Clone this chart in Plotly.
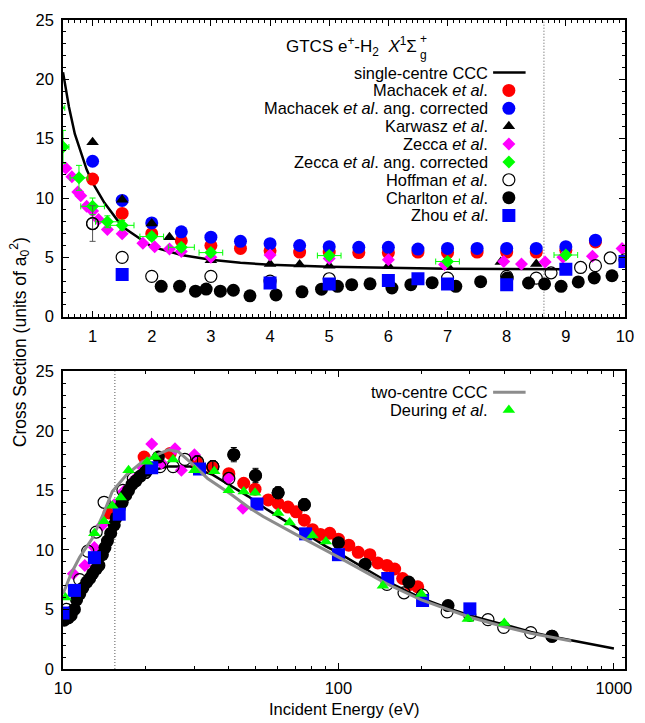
import plotly.graph_objects as go

# ---------------- DATA: low-energy panel (0.5-10 eV) ----------------
ccc_sc_low_E = [0.5, 0.55, 0.6, 0.7, 0.8, 0.9, 1.0, 1.2, 1.5, 2.0, 2.5, 3.0, 3.5, 4.0, 5.0, 6.0, 7.0, 8.0, 9.0]
ccc_sc_low_cs = [20.6, 19.1, 17.7, 15.4, 13.8, 12.4, 11.3, 9.6, 7.6, 5.9, 5.2, 4.8, 4.55, 4.38, 4.2, 4.1, 4.05, 4.02, 4.0]

mach_low_E = [1, 1.5, 2, 2.5, 3, 3.5, 4, 4.5, 5, 5.5, 6, 6.5, 7, 7.5, 8, 8.5, 9, 9.5]
mach_low_cs = [11.6, 8.7, 7.0, 6.4, 6.0, 5.75, 5.55, 5.45, 5.45, 5.4, 5.4, 5.45, 5.4, 5.45, 5.45, 5.45, 5.6, 6.3]
machcorr_low_cs = [13.1, 9.8, 7.9, 7.15, 6.7, 6.35, 6.15, 6.0, 5.9, 5.85, 5.85, 5.7, 5.75, 5.75, 5.75, 5.75, 5.9, 6.45]

karw_low_E = [1, 1.5, 2, 2.3, 3, 4, 4.5, 5, 6, 7, 7.9, 8.5]
karw_low_cs = [14.7, 9.85, 7.85, 6.7, 4.75, 4.45, 4.4, 4.3, 4.3, 4.3, 4.6, 4.45]

zecca_low_E = [0.55, 0.65, 0.75, 0.8, 0.9, 1.0, 1.1, 1.25, 1.5, 1.85, 2.05, 2.3, 2.5, 3.0, 4.0, 5.0, 6.0, 6.95, 7.95, 8.25, 8.65, 8.95, 9.45, 9.95]
zecca_low_cs = [12.5, 11.8, 10.5, 10.2, 9.3, 8.9, 8.2, 7.35, 7.0, 6.2, 5.9, 5.7, 5.5, 5.0, 5.2, 4.9, 4.8, 4.4, 4.65, 4.45, 4.6, 5.0, 5.1, 5.75]

zeccacorr_low_E = [0.42, 0.5, 0.77, 1.0, 1.25, 1.5, 2.0, 2.5, 3.0, 5.0, 7.0, 9.0]
zeccacorr_low_cs = [17.6, 14.3, 11.7, 9.3, 8.0, 7.7, 6.75, 5.85, 5.4, 5.15, 4.65, 5.2]
zeccacorr_low_dE = [0.11, 0.1, 0.15, 0.2, 0.2, 0.2, 0.2, 0.22, 0.2, 0.2, 0.2, 0.2]
zeccacorr_low_dcs = [0.0, 1.4, 1.05, 0.7, 0.5, 0.4, 0.3, 0.3, 0.3, 0.3, 0.3, 0.3]

hoff_low_E = [1, 1.5, 2, 3, 4, 5, 7, 8, 8.5, 8.75, 9.25, 9.5, 9.75, 10]
hoff_low_cs = [7.85, 5.0, 3.4, 3.4, 3.0, 3.2, 3.25, 3.4, 3.25, 3.7, 4.15, 4.3, 4.95, 4.8]
hoff_low_err = [1.5, None, None, None, None, None, None, None, None, None, None, None, None, None]

charl_low_E = [2.16, 2.47, 2.74, 2.92, 3.16, 3.38, 3.66, 4.1, 4.54, 4.87, 5.14, 5.38, 5.69, 6.06, 6.38, 6.74,
               7.14, 7.56, 8.01, 8.37, 8.64, 8.92, 9.21, 9.48, 9.78]
charl_low_cs = [2.56, 2.56, 2.15, 2.33, 2.15, 2.23, 1.76, 1.84, 2.1, 2.32, 2.56, 2.7, 2.77, 2.42, 2.7, 2.87,
                2.56, 2.95, 3.26, 2.84, 2.76, 2.56, 2.93, 3.26, 3.45]

zhou_low_E = [1.5, 4, 5, 6, 6.5, 7, 8, 9, 10]
zhou_low_cs = [3.55, 2.85, 2.75, 3.05, 3.2, 2.75, 2.7, 4.0, 4.65]

ps_threshold = 8.63

# ---------------- DATA: high-energy panel (10-1000 eV) ----------------
ccc_sc_high_E = [18.5, 20.4, 24, 29, 35, 42, 47, 55, 70, 90, 100, 125, 150, 200, 250, 300, 400, 500, 600, 800, 1000]
ccc_sc_high_cs = [16.4, 16.6, 17.0, 17.0, 16.3, 15.2, 14.5, 13.4, 11.9, 10.3, 9.75, 8.4, 7.35, 5.95, 5.1, 4.5, 3.7, 3.12, 2.7, 2.15, 1.72]

ccc_tc_E = [10, 10.7, 11.5, 12.8, 14, 15.1, 17, 19.4, 22, 24.1, 26.2, 29.2, 33.5, 40.6, 47, 53.3, 70, 100, 150, 200, 300, 400, 500, 700]
ccc_tc_cs = [6.3, 8.0, 9.4, 11.0, 13.0, 14.9, 16.3, 17.4, 18.0, 18.4, 18.25, 17.3, 16.0, 14.7, 13.6, 12.8, 11.3, 9.4, 7.15, 5.8, 4.35, 3.55, 3.0, 2.35]

mach_high_E = [14.7, 19.7, 24.5, 30.5, 34.9, 40, 45.3, 49.8, 55.6, 60.4, 65.6, 70.2, 75.2, 80.5, 86, 93, 100,
               109, 118, 130, 139, 150, 160, 171, 182, 194]
mach_high_cs = [13.1, 17.8, 18.1, 17.4, 16.9, 16.4, 15.6, 15.1, 14.2, 13.9, 13.6, 13.2, 12.5, 11.7, 11.3, 11.4, 10.9,
                10.4, 9.8, 9.6, 8.9, 8.7, 8.4, 7.6, 7.1, 6.9]

zecca_high_E = [10.9, 12.0, 13.0, 13.9, 15.35, 16.6, 18.3, 19.5, 21.0, 22.8, 25.5, 26.9, 30, 40, 45]
zecca_high_cs = [8.0, 8.7, 10.2, 12.1, 13.8, 14.9, 16.0, 16.9, 18.9, 17.3, 18.5, 16.7, 18.0, 16.0, 13.5]

hoff_high_E = [10.3, 11.5, 12.3, 13.2, 14.1, 16.5, 18, 19.9, 22.5, 25.1, 27.7, 30.8, 35, 40, 150, 173, 202, 248, 300, 349, 398, 499, 596]
hoff_high_cs = [5.0, 7.5, 9.9, 11.5, 14.0, 15.0, 16.0, 16.5, 17.0, 17.0, 17.6, 17.4, 17.0, 16.0, 7.1, 6.4, 6.2, 4.8, 4.5, 4.15, 3.5, 3.06, 2.75]
hoff_high_err = [None, None, None, None, None, None, None, 0.5, None, None, None, 0.5, 0.5, None, None, None, None, None, None, None, None, None, None]

charl_high_E = [10.1, 10.2, 10.45, 10.7, 11.0, 11.2, 11.5, 11.8, 12.2, 12.5, 12.8, 13.2, 13.5, 13.9, 14.2, 14.5, 14.9,
                15.35, 15.6, 16.0, 16.4, 16.9, 17.3, 17.8, 18.4, 19.1, 20.2, 22.2, 41.7, 50, 60.4, 75.2, 100, 125, 180, 250, 596]
charl_high_cs = [4.1, 4.4, 4.3, 4.5, 5.0, 5.8, 6.3, 6.8, 7.3, 7.6, 8.0, 8.4, 8.7, 9.6, 10.2, 10.75, 11.4,
                 12.1, 12.7, 13.5, 14.0, 14.6, 15.0, 15.5, 15.8, 16.2, 16.7, 17.8, 18.0, 16.25, 14.8, 13.8, 10.6, 8.8, 7.3, 5.33, 2.75]
charl_high_err = [None] * 28 + [0.6, 0.6, 0.5, 0.5, None, None, None, None, None]

zhou_high_E = [10, 11, 13, 16, 21, 31.3, 50.6, 76, 100, 151, 202, 300]
zhou_high_cs = [4.7, 6.6, 9.35, 13.0, 16.9, 16.8, 13.85, 11.35, 9.6, 7.6, 5.75, 5.05]

deur_E = [10.2, 13.0, 14.1, 15.1, 16.2, 17.3, 20.2, 21.6, 25.1, 30, 35.4, 40, 45.3, 49.8, 60.4, 66.5, 80.5, 90, 145, 200, 295, 400]
deur_cs = [6.0, 11.4, 12.4, 13.7, 14.4, 16.7, 17.4, 17.8, 17.6, 16.7, 16.6, 15.0, 14.9, 14.8, 13.1, 12.3, 11.2, 10.7, 7.0, 6.3, 4.2, 3.86]

ion_threshold = 15.43

cs_ticks = [0, 5, 10, 15, 20, 25]
low_E_ticks = [1, 2, 3, 4, 5, 6, 7, 8, 9, 10]
high_E_ticks = [10, 100, 1000]
high_E_ticklabels = ["10", "100", "1000"]

legend_top = ["single-centre CCC", "Machacek <i>et al</i>.", "Machacek <i>et al</i>. ang. corrected",
              "Karwasz <i>et al</i>.", "Zecca <i>et al</i>.", "Zecca <i>et al</i>. ang. corrected",
              "Hoffman <i>et al</i>.", "Charlton <i>et al</i>.", "Zhou <i>et al</i>."]
legend_bottom = ["two-centre CCC", "Deuring <i>et al</i>."]

# ---------------- STYLE ----------------
W, H = 645, 723
ML, MR, MT, MB = 63, 11, 15, 54
FONT = "Liberation Sans, Arial, Helvetica, sans-serif"
RED, BLUE, MAG, GRN, BLK, GRY = "#ff0000", "#0000ff", "#ff00ff", "#00ff00", "#000000", "#8c8c8c"
LEG_FS, TICK_FS, TITLE_FS = 16.4, 16.5, 16.5

sty = {
    "mach": dict(symbol="circle", size=13, color=RED),
    "machc": dict(symbol="circle", size=13, color=BLUE),
    "karw": dict(symbol="triangle-up", size=11, color=BLK),
    "zecca": dict(symbol="diamond", size=10, color=MAG),
    "zeccac": dict(symbol="diamond", size=10, color=GRN),
    "hoff": dict(symbol="circle-open", size=12, color=BLK, line=dict(width=1.2, color=BLK)),
    "charl": dict(symbol="circle", size=13, color=BLK),
    "zhou": dict(symbol="square", size=13, color=BLUE),
    "deur": dict(symbol="triangle-up", size=11, color=GRN),
}

fig = go.Figure()

def add(x, y, ax, marker=None, line=None, **kw):
    xa, ya = ax
    mode = "lines" if line else "markers"
    fig.add_trace(go.Scatter(x=x, y=y, mode=mode, marker=marker, line=line,
                             xaxis=xa, yaxis=ya, showlegend=False, hoverinfo="skip", **kw))

def add_with_err(x, y, err, ax, marker, color):
    """markers for all points; error bars only where an error value exists"""
    add(x, y, ax, marker=marker)
    xs = [a for a, e in zip(x, err) if e is not None]
    ys = [b for b, e in zip(y, err) if e is not None]
    es = [e for e in err if e is not None]
    if xs:
        add(xs, ys, ax, marker=marker,
            error_y=dict(type="data", array=es, color=color, thickness=1, width=3))

TOP = ("x", "y")
BOT = ("x2", "y2")
DOTTED = dict(color="#555555", width=1, dash="1px,2px")

# threshold lines
add([ps_threshold, ps_threshold], [cs_ticks[0], cs_ticks[-1]], TOP, line=DOTTED)
add([ion_threshold, ion_threshold], [cs_ticks[0], cs_ticks[-1]], BOT, line=DOTTED)

# top panel
add(ccc_sc_low_E, ccc_sc_low_cs, TOP, line=dict(color=BLK, width=2.5))
add(mach_low_E, mach_low_cs, TOP, marker=sty["mach"])
add(mach_low_E, machcorr_low_cs, TOP, marker=sty["machc"])
add(karw_low_E, karw_low_cs, TOP, marker=sty["karw"])
add(zecca_low_E, zecca_low_cs, TOP, marker=sty["zecca"])
add(zeccacorr_low_E, zeccacorr_low_cs, TOP, marker=sty["zeccac"],
    error_x=dict(type="data", array=zeccacorr_low_dE, color=GRN, thickness=1, width=3),
    error_y=dict(type="data", array=zeccacorr_low_dcs, color=GRN, thickness=1, width=3))
add_with_err(hoff_low_E, hoff_low_cs, hoff_low_err, TOP, sty["hoff"], "#555555")
add(charl_low_E, charl_low_cs, TOP, marker=sty["charl"])
add(zhou_low_E, zhou_low_cs, TOP, marker=sty["zhou"])

# bottom panel
add(ccc_sc_high_E, ccc_sc_high_cs, BOT, line=dict(color=BLK, width=2.5))
add(mach_high_E, mach_high_cs, BOT, marker=sty["mach"])
add(zecca_high_E, zecca_high_cs, BOT, marker=sty["zecca"])
add_with_err(hoff_high_E, hoff_high_cs, hoff_high_err, BOT, sty["hoff"], BLK)
add_with_err(charl_high_E, charl_high_cs, charl_high_err, BOT, sty["charl"], BLK)
add(zhou_high_E, zhou_high_cs, BOT, marker=sty["zhou"])
add(ccc_tc_E, ccc_tc_cs, BOT, line=dict(color=GRY, width=3))
add(deur_E, deur_cs, BOT, marker=sty["deur"])

# ---------------- custom legends (pixel-space overlay axis) ----------------
LEG = ("x3", "y3")
txt_x, sym_x, line_x0, line_x1 = 497, 516, 500, 533
top_rows = [68, 86, 104, 122, 140, 158, 176, 194, 212]
bot_rows = [390, 408]
top_keys = [None, "mach", "machc", "karw", "zecca", "zeccac", "hoff", "charl", "zhou"]

annotations = []
def px_ann(text, x, y, xanchor="right", size=LEG_FS, **kw):
    annotations.append(dict(text=text, x=(x - ML) / (W - ML - MR), y=(H - MB - y) / (H - MT - MB),
                            xref="paper", yref="paper", xanchor=xanchor, yanchor="middle",
                            showarrow=False, font=dict(size=size, color=BLK, family=FONT), **kw))

for lab, key, yy in zip(legend_top, top_keys, top_rows):
    px_ann(lab, txt_x, yy)
    if key is None:
        add([line_x0, line_x1], [yy, yy], LEG, line=dict(color=BLK, width=2.5))
    else:
        add([sym_x], [yy], LEG, marker=sty[key])

px_ann(legend_bottom[0], txt_x, bot_rows[0])
add([line_x0, line_x1], [bot_rows[0], bot_rows[0]], LEG, line=dict(color=GRY, width=3))
px_ann(legend_bottom[1], txt_x, bot_rows[1])
add([sym_x], [bot_rows[1]], LEG, marker=sty["deur"])

# title
px_ann("GTCS e<sup>+</sup>-H<sub>2</sub>  <i>X</i><sup>1</sup>Σ", 425, 42, size=17)
px_ann("+", 424, 34, xanchor="left", size=12)
px_ann("g", 424, 50, xanchor="left", size=12)

# axis titles
px_ann("Cross Section (units of a<sub>0</sub><sup>2</sup>)", 19, 340, xanchor="center", textangle=-90, size=17.5)
px_ann("Incident Energy (eV)", 348.5, 709, xanchor="center", size=TITLE_FS)

# ---------------- axes ----------------
plot_h = H - MT - MB
top_dom = [(H - MB - 314) / plot_h, 1.0]
bot_dom = [0.0, (H - MB - 369) / plot_h]

common = dict(showline=True, linecolor=BLK, linewidth=1.5, mirror="allticks", ticks="inside",
              ticklen=6, tickwidth=1, tickcolor=BLK, showgrid=False, zeroline=False,
              tickfont=dict(size=TICK_FS, color=BLK, family=FONT))

fig.update_layout(
    width=W, height=H, margin=dict(l=ML, r=MR, t=MT, b=MB),
    paper_bgcolor="white", plot_bgcolor="rgba(0,0,0,0)",
    font=dict(family=FONT, size=16, color=BLK),
    annotations=annotations,
    xaxis=dict(**common, domain=[0, 1], anchor="y", range=[0.5, 10], tickvals=low_E_ticks,
               ticklabelstandoff=4,
               minor=dict(ticks="inside", ticklen=3, dtick=0.1, tick0=0, tickcolor=BLK)),
    yaxis=dict(**common, domain=top_dom, anchor="x", range=[0, 25], tickvals=cs_ticks,
               ticklabelstandoff=4,
               minor=dict(ticks="inside", ticklen=3, dtick=1, tick0=0, tickcolor=BLK)),
    xaxis2=dict(**common, domain=[0, 1], anchor="y2", type="log", range=[1, 3.0403],
                tickvals=high_E_ticks, ticktext=high_E_ticklabels, ticklabelstandoff=3,
                minor=dict(ticks="inside", ticklen=3, tickcolor=BLK,
                           tickvals=[m * 10 ** k for k in (1, 2) for m in range(2, 10)])),
    yaxis2=dict(**common, domain=bot_dom, anchor="x2", range=[0, 25], tickvals=cs_ticks,
                ticklabelstandoff=4,
                minor=dict(ticks="inside", ticklen=3, dtick=1, tick0=0, tickcolor=BLK)),
    xaxis3=dict(domain=[0, 1], anchor="y3", range=[ML, W - MR], visible=False, fixedrange=True),
    yaxis3=dict(domain=[0, 1], anchor="x3", range=[H - MB, MT], visible=False, fixedrange=True),
)

fig.write_html("out.html", config={"displayModeBar": False},
               post_script="document.body.style.margin='0px';")
